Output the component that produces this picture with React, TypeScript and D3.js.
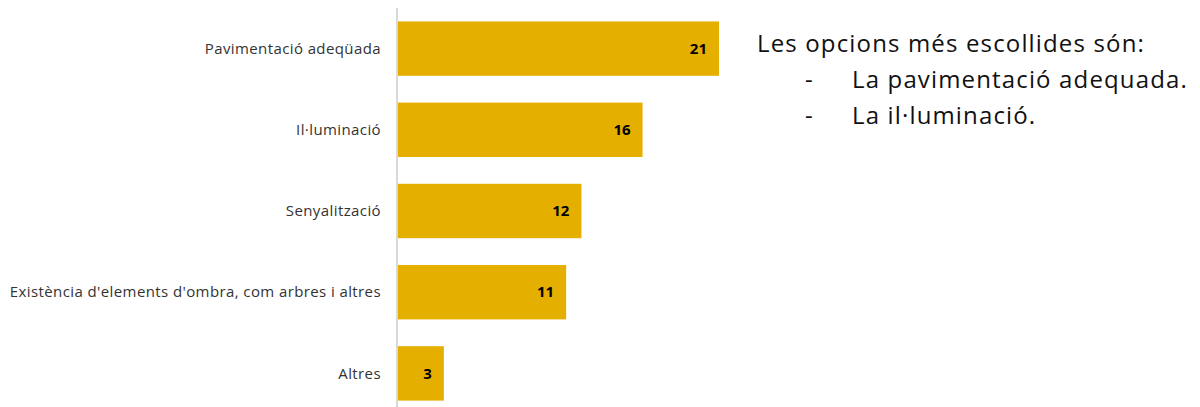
import React from "react";
import * as d3 from "d3";

const categories = [
  "Pavimentació adeqüada",
  "Il·luminació",
  "Senyalització",
  "Existència d'elements d'ombra, com arbres i altres",
  "Altres",
];
const values = [21, 16, 12, 11, 3];
const noteTitle = "Les opcions més escollides són:";
const noteItems = ["La pavimentació adequada.", "La il·luminació."];

export default function App() {
  const W = 1200, H = 407;
  const x0 = 398;
  const x = d3.scaleLinear().domain([0, 21]).range([x0, 719]);
  const y = d3.scaleBand<string>().domain(categories).range([8, 414]).paddingInner(0.33).paddingOuter(0.165);
  return (
    <svg width={W} height={H} style={{ position: "absolute", left: 0, top: 0, background: "#fff" }}>
      {categories.map((c, i) => (
        <g key={c}>
          <rect x={x(0)} y={y(c)!} width={x(values[i]) - x(0)} height={y.bandwidth()} fill="#E5AF00" />
          <text x={x(values[i]) - 12} y={y(c)! + y.bandwidth() / 2} dy="0.35em" textAnchor="end"
            fontFamily="'Open Sans', sans-serif" fontWeight="bold" fontSize={15} fill="#000">{values[i]}</text>
          <text x={381} y={y(c)! + y.bandwidth() / 2} dy="0.35em" textAnchor="end"
            fontFamily="'Open Sans', sans-serif" fontSize={15} letterSpacing={0.4} fill="#333">{c}</text>
        </g>
      ))}
      <line x1={x0 - 1} x2={x0 - 1} y1={8} y2={407} stroke="#d9d9d9" strokeWidth={2} />
      <g fontFamily="'Open Sans', sans-serif" fontSize={24} letterSpacing={1.15} fill="#111">
        <text x={757} y={52}>{noteTitle}</text>
        {noteItems.map((t, i) => (
          <g key={t}>
            <text x={805} y={88 + i * 36}>-</text>
            <text x={852} y={88 + i * 36}>{t}</text>
          </g>
        ))}
      </g>
    </svg>
  );
}
